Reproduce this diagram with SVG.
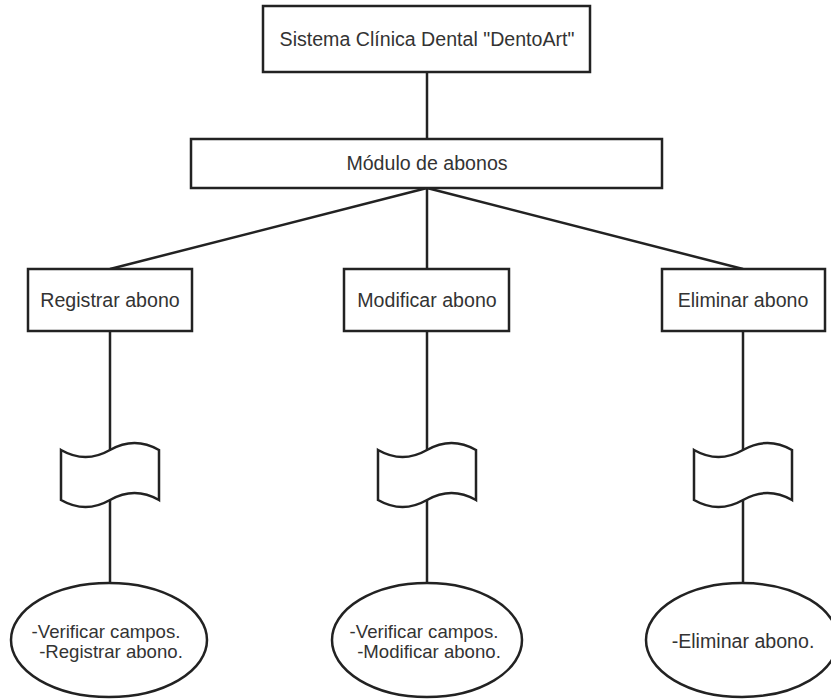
<svg xmlns="http://www.w3.org/2000/svg" width="831" height="700" viewBox="0 0 831 700">
<style>
.box{fill:#fff;stroke:#222;stroke-width:2.5}
.edge{fill:none;stroke:#222;stroke-width:2.5}
.t{font-family:"Liberation Sans",Arial,sans-serif;font-size:19.6px;fill:#333;text-anchor:middle;dominant-baseline:central}
.s{font-size:18.6px}
</style>
<defs>
<path id="tape" d="M0,7 Q24.5,21 49,7 Q73.5,-7 98,7 L98,57 Q73.5,43 49,57 Q24.5,71 0,57 Z"/>
</defs>
<rect width="831" height="700" fill="#fff"/>
<g id="connectors">
<line class="edge" x1="427" y1="72" x2="427" y2="139"/>
<line class="edge" x1="427" y1="188" x2="110" y2="269"/>
<line class="edge" x1="427" y1="188" x2="427" y2="269"/>
<line class="edge" x1="427" y1="188" x2="743" y2="269"/>
<line class="edge" x1="110" y1="331" x2="110" y2="583"/>
<line class="edge" x1="427" y1="331" x2="427" y2="583"/>
<line class="edge" x1="743" y1="331" x2="743" y2="583"/>
</g>
<g id="n-sistema">
<rect class="box" x="263" y="6" width="327" height="66"/>
<text class="t" x="427" y="39">Sistema Clínica Dental "DentoArt"</text>
</g>
<g id="n-modulo">
<rect class="box" x="191" y="139" width="471" height="49"/>
<text class="t" x="427" y="163">Módulo de abonos</text>
</g>
<g id="n-registrar">
<rect class="box" x="28" y="269" width="164" height="62"/>
<text class="t" x="110" y="300">Registrar abono</text>
</g>
<g id="n-modificar">
<rect class="box" x="344" y="269" width="165" height="62"/>
<text class="t" x="427" y="300">Modificar abono</text>
</g>
<g id="n-eliminar">
<rect class="box" x="662" y="269" width="163" height="62"/>
<text class="t" x="743" y="300">Eliminar abono</text>
</g>
<g id="tape-registrar" transform="translate(61,443)">
<use href="#tape" class="box"/>
</g>
<g id="tape-modificar" transform="translate(378,443)">
<use href="#tape" class="box"/>
</g>
<g id="tape-eliminar" transform="translate(694,443)">
<use href="#tape" class="box"/>
</g>
<g id="e-registrar">
<ellipse class="box" cx="109" cy="640" rx="98" ry="57"/>
<text class="t s" x="106" y="631"><tspan x="106" y="631">-Verificar campos.</tspan><tspan x="111" y="651">-Registrar abono.</tspan></text>
</g>
<g id="e-modificar">
<ellipse class="box" cx="427" cy="640" rx="95" ry="57"/>
<text class="t s" x="424" y="631"><tspan x="424" y="631">-Verificar campos.</tspan><tspan x="429" y="651">-Modificar abono.</tspan></text>
</g>
<g id="e-eliminar">
<ellipse class="box" cx="742" cy="640" rx="96" ry="57"/>
<text class="t" x="743" y="641">-Eliminar abono.</text>
</g>
</svg>
